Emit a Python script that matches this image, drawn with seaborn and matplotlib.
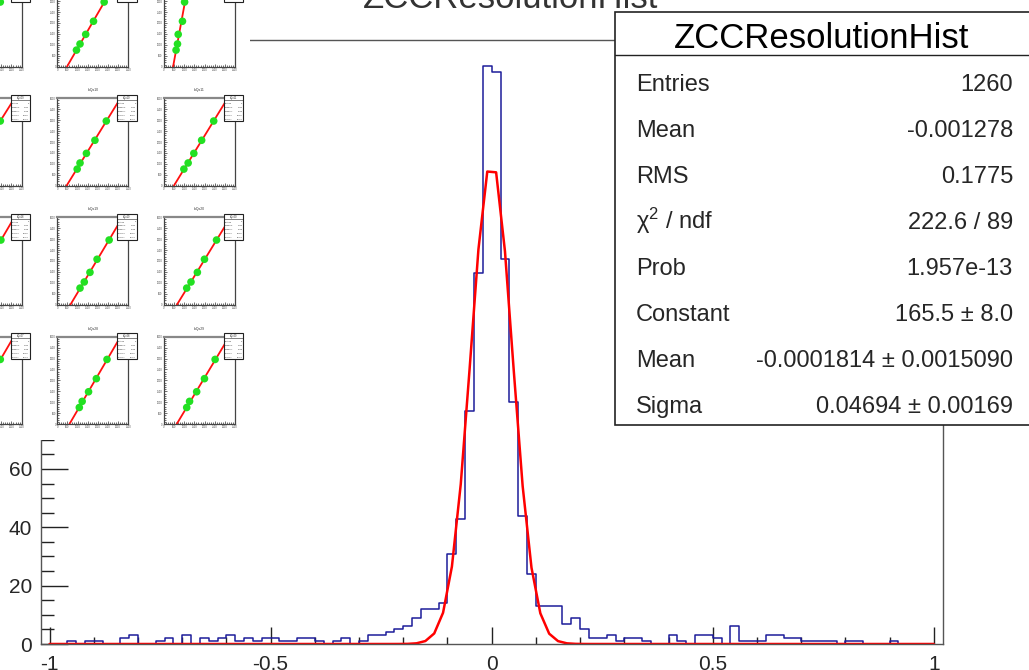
import numpy as np
import pandas as pd
import matplotlib
matplotlib.use('Agg')
import matplotlib.pyplot as plt
import seaborn as sns
from matplotlib.patches import Rectangle
from matplotlib.ticker import MultipleLocator

W, H = 1029, 670

# main histogram, 100 bins of width 0.02 in [-1, 1]
bin_edges = [round(-1.0 + 0.02 * i, 4) for i in range(101)]
counts = [0, 0, 1, 0, 1, 1, 0, 0, 2, 3,
          0, 0, 1, 2, 0, 3, 0, 2, 1, 2,
          3, 1, 2, 1, 2, 2, 1, 1, 2, 2,
          1, 0, 1, 2, 0, 1, 3, 3, 4, 5,
          6, 9, 12, 12, 14, 31, 43, 80, 127, 198,
          196, 132, 83, 44, 24, 13, 13, 13, 7, 9,
          5, 2, 2, 3, 1, 2, 2, 1, 0, 0,
          3, 1, 0, 3, 3, 2, 0, 6, 1, 1,
          1, 3, 3, 2, 2, 1, 1, 1, 1, 0,
          1, 1, 0, 0, 0, 1, 0, 0, 0, 0]

# gaussian fit parameters (from the stats box)
fit_constant = 165.5
fit_mean = -0.0001814
fit_sigma = 0.04694

hist_title = 'ZCCResolutionHist'
stat_labels = ['Entries', 'Mean', 'RMS', '\u03c7$^{2}$ / ndf', 'Prob',
               'Constant', 'Mean', 'Sigma']
stat_values = ['1260', '-0.001278', '0.1775', '222.6 / 89', '1.957e-13',
               '165.5 \u00b1 8.0', '-0.0001814 \u00b1 0.0015090',
               '0.04694 \u00b1 0.00169']

# small calibration canvases in the top-left corner (3 columns x 4 rows)
thumb_titles = [['b:Qx02', 'b:Qx03', 'b:Qx04'],
                ['b:Qx09', 'b:Qx10', 'b:Qx11'],
                ['b:Qx18', 'b:Qx19', 'b:Qx20'],
                ['b:Qx27', 'b:Qx28', 'b:Qx29']]
thumb_y = [760, 1040, 1480, 2080, 2960]
thumb_x = [[[980, 1120, 1435, 1855, 2450], [945, 1120, 1400, 1785, 2310], [595, 665, 700, 910, 1015]],
           [[980, 1120, 1435, 1855, 2450], [980, 1120, 1435, 1855, 2415], [980, 1190, 1470, 1855, 2450]],
           [[1085, 1260, 1575, 1925, 2480], [1120, 1330, 1610, 1960, 2555], [1120, 1330, 1645, 1995, 2590]],
           [[1085, 1225, 1540, 1925, 2450], [1085, 1225, 1540, 1925, 2450], [1120, 1260, 1610, 1995, 2520]]]

sns.set_theme(style='white')
plt.rcParams['font.family'] = ['Liberation Sans', 'DejaVu Sans']
plt.rcParams['axes.unicode_minus'] = False
plt.rcParams['mathtext.fontset'] = 'custom'
plt.rcParams['mathtext.rm'] = 'Liberation Sans'
plt.rcParams['mathtext.it'] = 'Liberation Sans:italic'


def px_rect(x0, y0, x1, y1):
    return [x0 / W, 1 - y1 / H, (x1 - x0) / W, (y1 - y0) / H]


fig = plt.figure(figsize=(W / 100, H / 100), dpi=100)
fig.patch.set_facecolor('white')

# ---- main histogram ----
ax = fig.add_axes(px_rect(40.7, 40, 942.7, 644))
centers = [(bin_edges[i] + bin_edges[i + 1]) / 2 for i in range(100)]
df = pd.DataFrame({'x': centers, 'n': counts})
sns.histplot(data=df, x='x', weights='n', bins=bin_edges, element='step',
             fill=False, color='#1c1c9a', linewidth=1.1, ax=ax)

fx = np.concatenate([[-1.0], centers, [1.0]])
fy = fit_constant * np.exp(-0.5 * ((fx - fit_mean) / fit_sigma) ** 2)
ax.plot(fx, fy, color='#ff0000', linewidth=1.8)

ax.set_xlim(-1.02, 1.02)
ax.set_ylim(0, 207)
ax.set_xlabel('')
ax.set_ylabel('')
ax.xaxis.set_minor_locator(MultipleLocator(0.1))
ax.yaxis.set_major_locator(MultipleLocator(20))
ax.yaxis.set_minor_locator(MultipleLocator(5))
ax.set_xticks([-1, -0.5, 0, 0.5, 1])
ax.set_xticklabels(['-1', '-0.5', '0', '0.5', '1'])
ax.tick_params(axis='x', which='major', direction='in', length=12.2, width=1,
               color='#222222', labelsize=15, pad=8.2, bottom=True)
ax.tick_params(axis='x', which='minor', direction='in', length=5.4, width=1,
               color='#222222', bottom=True)
ax.tick_params(axis='y', which='major', direction='in', length=19.4, width=1,
               color='#222222', labelsize=15, pad=6, left=True)
ax.tick_params(axis='y', which='minor', direction='in', length=9.4, width=1,
               color='#222222', left=True)
for s in ax.spines.values():
    s.set_color('#555555')
    s.set_linewidth(1.0)

# main title, mostly outside the canvas
fig.text(363 / W, 1 - 8.5 / H, hist_title, fontsize=25, ha='left',
         va='baseline', color='#333333', zorder=1)

# ---- stats box ----
sx0, sy0, sx1, sy1 = 615, 12.3, 1035, 425
sax = fig.add_axes(px_rect(sx0, sy0, sx1, sy1), zorder=10)
sax.set_xlim(sx0, sx1)
sax.set_ylim(sy1, sy0)
sax.axis('off')
sax.add_patch(Rectangle((sx0, sy0), sx1 - sx0, sy1 - sy0, facecolor='white',
                        edgecolor='#222222', linewidth=1.2, clip_on=False))
sax.plot([sx0, sx1], [55, 55], color='#222222', lw=1.0)
sax.text(822, 48.3, hist_title, fontsize=25, ha='center', va='baseline',
         color='black')
row_y0, row_dy = 90.7, 46.0
for i, (lab, val) in enumerate(zip(stat_labels, stat_values)):
    y = row_y0 + i * row_dy
    sax.text(636, y, lab, fontsize=17, ha='left', va='baseline')
    sax.text(1013, y, val, fontsize=17, ha='right', va='baseline')

# ---- thumbnails of calibration fits, pasted over the top-left ----
cover = fig.add_axes(px_rect(0, 0, 250, 440), zorder=5)
cover.set_facecolor('white')
cover.set_xticks([])
cover.set_yticks([])
for s in cover.spines.values():
    s.set_visible(False)

over = fig.add_axes(px_rect(0, 0, 250, 440), zorder=8)
over.set_xlim(0, 250)
over.set_ylim(440, 0)
over.axis('off')

col_left = [-49.4, 57.3, 164.0]
row_top = [-20.7, 98.3, 217.3, 336.7]
tw, th = 71, 87.4
for r in range(4):
    for c in range(3):
        x0, y0 = col_left[c], row_top[r]
        tax = fig.add_axes(px_rect(x0, y0, x0 + tw, y0 + th), zorder=6)
        tx = thumb_x[r][c]
        a, b = np.polyfit(thumb_y, tx, 1)
        ly = np.array([0, 4000])
        tax.plot(a * ly + b, ly, color='#ff1010', linewidth=1.3, zorder=2)
        sns.scatterplot(x=tx, y=thumb_y, color='#22e022', s=30,
                        edgecolor='none', ax=tax, zorder=3)
        tax.set_xlim(0, 3500)
        tax.set_ylim(0, 4000)
        tax.set_xlabel('')
        tax.set_ylabel('')
        tax.xaxis.set_major_locator(MultipleLocator(500))
        tax.xaxis.set_minor_locator(MultipleLocator(100))
        tax.yaxis.set_major_locator(MultipleLocator(500))
        tax.yaxis.set_minor_locator(MultipleLocator(100))
        tax.tick_params(which='both', direction='in', width=0.5,
                        color='#333333', labelsize=1.8, pad=1,
                        labelcolor='#444444', left=True, bottom=True)
        tax.tick_params(which='major', length=2.2)
        tax.tick_params(which='minor', length=1.1)
        for s in tax.spines.values():
            s.set_color('#444444')
            s.set_linewidth(0.9)
        tax.spines['top'].set_linewidth(1.6)
        tax.spines['top'].set_color('#888888')
        # title and small stats box
        over.text(x0 + tw / 2, y0 - 8, thumb_titles[r][c], fontsize=2.4,
                  ha='center', va='center', color='#333333')
        bx0, by0 = x0 + tw - 11, y0 - 3.3
        over.add_patch(Rectangle((bx0, by0), 19.4, 25.7, facecolor='white',
                                 edgecolor='#222222', linewidth=0.8,
                                 zorder=3))
        over.plot([bx0, bx0 + 19.4], [by0 + 5, by0 + 5], color='#222222',
                  lw=0.4, zorder=4)
        over.text(bx0 + 9.7, by0 + 2.6, thumb_titles[r][c].replace(':', ''),
                  fontsize=1.8, ha='center', va='center', zorder=5)
        for k, (lab, val) in enumerate([('Entries', '5'), ('Mean x', '1234'),
                                        ('Mean y', '1866'), ('RMS x', '533.2'),
                                        ('RMS y', '802.4')]):
            yy = by0 + 8 + k * 4
            over.text(bx0 + 1, yy, lab, fontsize=1.6, ha='left', va='center',
                      zorder=5)
            over.text(bx0 + 18.4, yy, val, fontsize=1.6, ha='right',
                      va='center', zorder=5)

fig.savefig('out.png', dpi=100, facecolor='white')
